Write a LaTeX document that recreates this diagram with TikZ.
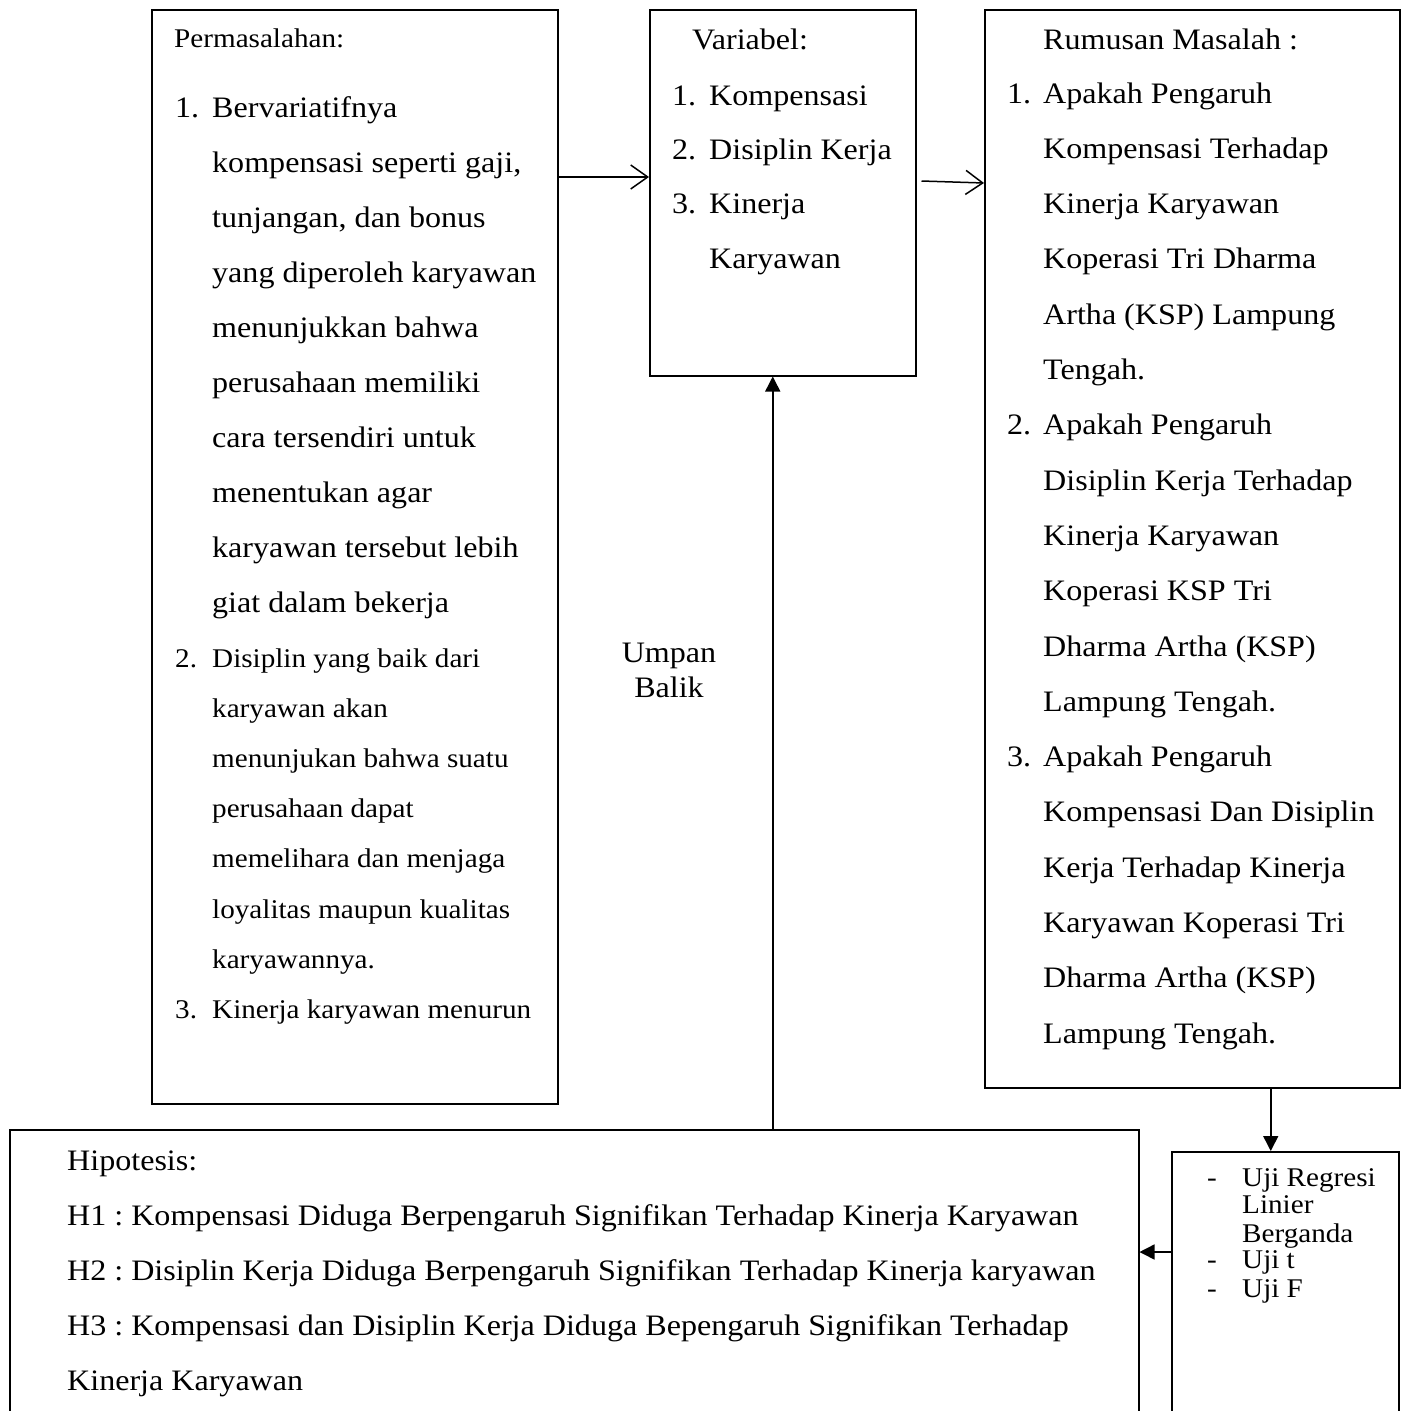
\documentclass[tikz,border=0pt]{standalone}
\usepackage{fontspec}
\setmainfont[FakeStretch=1.08]{Liberation Serif}
\usetikzlibrary{arrows.meta}
\frenchspacing
\begin{document}
\frenchspacing
\begin{tikzpicture}[x=1pt,y=-1pt,
  box/.style={draw, line width=1.5pt, inner sep=0pt, anchor=north west},
  txt/.style={anchor=base west, inner sep=0pt, font=\fontsize{29.7}{30}\selectfont},
  stxt/.style={anchor=base west, inner sep=0pt, font=\fontsize{27}{28}\selectfont},
  open/.style={line width=1.5pt, -{Straight Barb[length=17pt,width=24pt,line width=1.5pt]}},
  fill/.style={line width=1.5pt, -{Triangle[length=15pt,width=15pt]}}]
\clip (0,0) rectangle (1401,1411);
\fill[white] (0,0) rectangle (1401,1411);
% boxes
\node[box, minimum width=406pt, minimum height=1094pt] (perm) at (151,9) {};
\node[box, minimum width=266pt, minimum height=366pt] (var) at (649,9) {};
\node[box, minimum width=415pt, minimum height=1078pt] (rum) at (984,9) {};
\node[box, minimum width=1129pt, minimum height=300pt] (hip) at (9,1129) {};
\node[box, minimum width=227pt, minimum height=280pt] (uji) at (1171,1151) {};
% Permasalahan
\node[stxt] (ph) at (174,47) {Permasalahan:};
\node[txt] (pn1) at (175,117) {1.};
\foreach \t [count=\i] in {Bervariatifnya, {kompensasi seperti gaji,}, {tunjangan, dan bonus}, yang diperoleh karyawan, menunjukkan bahwa, perusahaan memiliki, cara tersendiri untuk, menentukan agar, karyawan tersebut lebih, giat dalam bekerja}
  \node[txt] (pa\i) at (212,{117+55*(\i-1)}) {\t};
\node[stxt] (pn2) at (175,667) {2.};
\foreach \t [count=\i] in {Disiplin yang baik dari, karyawan akan, menunjukan bahwa suatu, perusahaan dapat, memelihara dan menjaga, loyalitas maupun kualitas, karyawannya.}
  \node[stxt] (pb\i) at (212,{667+50.2*(\i-1)}) {\t};
\node[stxt] (pn3) at (175,1018) {3.};
\node[stxt] (pc1) at (212,1018) {Kinerja karyawan menurun};
% Variabel
\node[txt] (vh) at (692,49) {Variabel:};
\node[txt] (vn1) at (672,105) {1.};
\node[txt] (v1) at (709,105) {Kompensasi};
\node[txt] (vn2) at (672,159) {2.};
\node[txt] (v2) at (709,159) {Disiplin Kerja};
\node[txt] (vn3) at (672,213) {3.};
\node[txt] (v3) at (709,213) {Kinerja};
\node[txt] (v4) at (709,268) {Karyawan};
% Rumusan
\node[txt] (rh) at (1043,49) {Rumusan Masalah :};
\foreach \n/\k in {1/0, 2/6, 3/12}
  \node[txt] (rn\n) at (1007,{103+55.3*\k}) {\n.};
\foreach \t [count=\i] in {Apakah Pengaruh, Kompensasi Terhadap, Kinerja Karyawan, Koperasi Tri Dharma, Artha (KSP) Lampung, Tengah., Apakah Pengaruh, Disiplin Kerja Terhadap, Kinerja Karyawan, Koperasi KSP Tri, Dharma Artha (KSP), Lampung Tengah., Apakah Pengaruh, Kompensasi Dan Disiplin, Kerja Terhadap Kinerja, Karyawan Koperasi Tri, Dharma Artha (KSP), Lampung Tengah.}
  \node[txt] (r\i) at (1043,{103+55.3*(\i-1)}) {\t};
% Hipotesis
\foreach \t [count=\i] in {Hipotesis:, H1 : Kompensasi Diduga Berpengaruh Signifikan Terhadap Kinerja Karyawan, H2 : Disiplin Kerja Diduga Berpengaruh Signifikan Terhadap Kinerja karyawan, H3 : Kompensasi dan Disiplin Kerja Diduga Bepengaruh Signifikan Terhadap, Kinerja Karyawan}
  \node[txt] (h\i) at (67,{1170+55*(\i-1)}) {\t};
% Uji
\node[stxt] (ud1) at (1207,1186) {-};
\node[stxt] (u1) at (1242,1186) {Uji Regresi};
\node[stxt] (u2) at (1242,1213) {Linier};
\node[stxt] (u3) at (1242,1242) {Berganda};
\node[stxt] (ud2) at (1207,1268) {-};
\node[stxt] (u4) at (1242,1268) {Uji t};
\node[stxt] (ud3) at (1207,1297) {-};
\node[stxt] (u5) at (1242,1297) {Uji F};
% Umpan Balik
\node[anchor=base, inner sep=0pt, font=\fontsize{29.7}{30}\selectfont] (ub1) at (669,662) {Umpan};
\node[anchor=base, inner sep=0pt, font=\fontsize{29.7}{30}\selectfont] (ub2) at (669,697) {Balik};
% connectors
\draw[open] ([yshift=-168pt]perm.north east) -- ([yshift=-168pt]var.north west);
\draw[open] ([xshift=5pt,yshift=-172pt]var.north east) -- ([yshift=-174pt]rum.north west);
\draw[fill] ([xshift=-10pt]var.south |- hip.north) -- ([xshift=-10pt]var.south);
\draw[fill] ([xshift=78.5pt]rum.south) -- ([xshift=78.5pt]rum.south |- uji.north);
\draw[fill] ([yshift=-101pt]uji.north west) -- ([yshift=-101pt]uji.north west -| hip.east);
\end{tikzpicture}
\end{document}
